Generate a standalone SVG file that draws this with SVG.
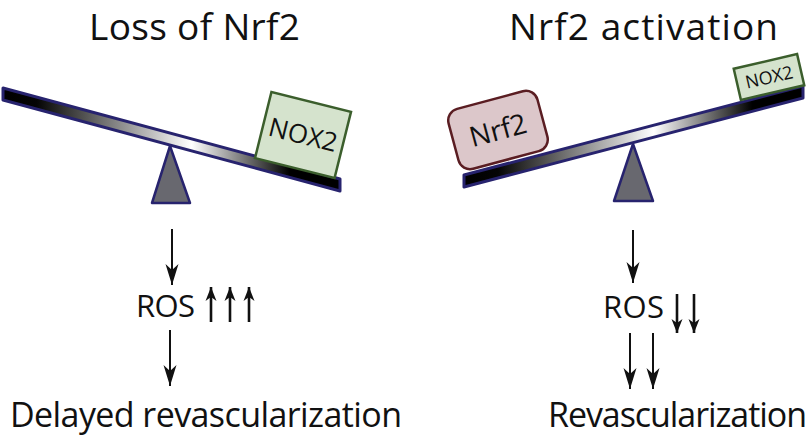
<svg xmlns="http://www.w3.org/2000/svg" width="812" height="437" viewBox="0 0 812 437">
  <defs>
    <style>
      .t { font-family: "Open Sans", "Liberation Sans", sans-serif; fill: #111; }
      .beam { fill: url(#beamGrad); stroke: #27236e; stroke-width: 3; stroke-linejoin: round; }
      .fulcrum { fill: #68686f; stroke: #27236e; stroke-width: 2.5; stroke-linejoin: round; }
      .nox { fill: #d5e3cd; stroke: #3b5e2c; stroke-width: 2.5; }
      .nrf { fill: #dcc7ca; stroke: #5a1d22; stroke-width: 2.5; }
      .arrow { fill: none; stroke: #111; stroke-width: 2; marker-end: url(#head); }
      .small { fill: none; stroke: #111; stroke-width: 2.6; marker-end: url(#headSmall); }
    </style>
    <linearGradient id="beamGrad" x1="0" y1="0" x2="1" y2="0">
      <stop offset="0" stop-color="#000"/>
      <stop offset="0.1" stop-color="#050505"/>
      <stop offset="0.56" stop-color="#fff"/>
      <stop offset="0.85" stop-color="#000"/>
      <stop offset="1" stop-color="#000"/>
    </linearGradient>
    <marker id="head" markerUnits="userSpaceOnUse" markerWidth="22" markerHeight="16" viewBox="0 0 22 16" refX="21" refY="8" orient="auto">
      <path d="M21,8 L0,1.5 L6,8 L0,14.5 Z" fill="#111"/>
    </marker>
    <marker id="headSmall" markerUnits="userSpaceOnUse" markerWidth="15" markerHeight="12" viewBox="0 0 15 12" refX="14" refY="6" orient="auto">
      <path d="M14,6 L0,0.5 L4,6 L0,11.5 Z" fill="#111"/>
    </marker>
  </defs>

  <rect width="812" height="437" fill="#fff"/>

  <g id="title-left">
    <text class="t" x="89" y="40" font-size="37" textLength="211">Loss of Nrf2</text>
  </g>
  <g id="title-right">
    <text class="t" x="509" y="40" font-size="37" textLength="269">Nrf2 activation</text>
  </g>

  <g id="fulcrum-left">
    <polygon class="fulcrum" points="170,146 152,203 190,203"/>
  </g>
  <g id="beam-left">
    <polygon class="beam" points="3,88 340,179 340,191 3,100"/>
  </g>
  <g id="nox2-left" transform="translate(303,135) rotate(14)">
    <rect class="nox" x="-41" y="-34" width="82" height="68"/>
    <text class="t" x="0" y="9" font-size="26" text-anchor="middle">NOX2</text>
  </g>

  <g id="fulcrum-right">
    <polygon class="fulcrum" points="633,144 614,201 653,201"/>
  </g>
  <g id="beam-right">
    <polygon class="beam" points="464,175 803,86 803,98 464,187"/>
  </g>
  <g id="nrf2" transform="translate(498,130) rotate(-15)">
    <rect class="nrf" x="-46" y="-31" width="92" height="62" rx="12" ry="12"/>
    <text class="t" x="0" y="10" font-size="28" text-anchor="middle">Nrf2</text>
  </g>
  <g id="nox2-right" transform="translate(769,77) rotate(-13)">
    <rect class="nox" x="-32.5" y="-16" width="65" height="32"/>
    <text class="t" x="0" y="6.5" font-size="18" text-anchor="middle">NOX2</text>
  </g>

  <g id="ros-left">
    <text class="t" x="136" y="317" font-size="31" textLength="59">ROS</text>
    <path class="small" d="M211,322 L211,287"/>
    <path class="small" d="M230,322 L230,287"/>
    <path class="small" d="M249,322 L249,287"/>
  </g>
  <g id="ros-right">
    <text class="t" x="603" y="318" font-size="31" textLength="61">ROS</text>
    <path class="small" d="M677,294 L677,333"/>
    <path class="small" d="M694,294 L694,333"/>
  </g>

  <g id="outcome-left">
    <text class="t" x="10" y="427" font-size="34" textLength="392">Delayed revascularization</text>
  </g>
  <g id="outcome-right">
    <text class="t" x="548" y="427" font-size="34" textLength="259">Revascularization</text>
  </g>

  <g id="connectors">
    <path class="arrow" d="M172,229 L172,285"/>
    <path class="arrow" d="M170,330 L170,386"/>
    <path class="arrow" d="M633,230 L633,283"/>
    <path class="arrow" d="M630,333 L630,389"/>
    <path class="arrow" d="M653,333 L653,389"/>
  </g>
</svg>
